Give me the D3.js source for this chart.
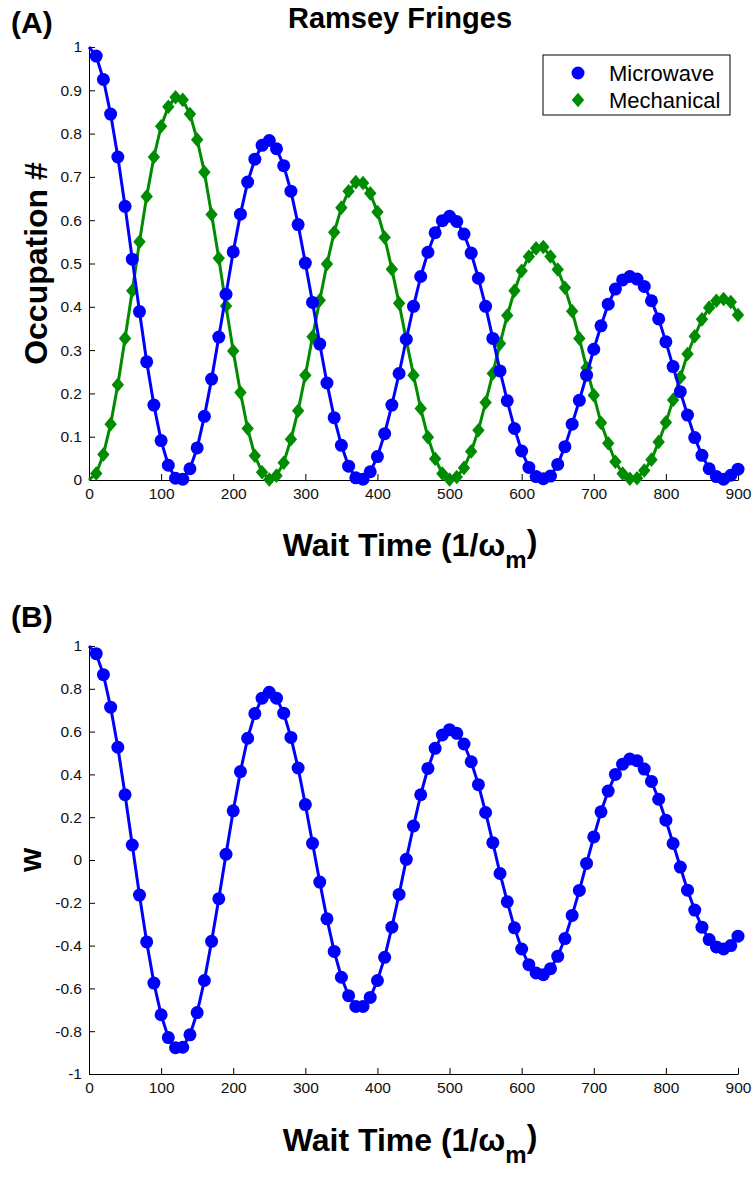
<!DOCTYPE html>
<html>
<head>
<meta charset="utf-8">
<script src="https://cdn.jsdelivr.net/npm/d3@7"></script>
<style>
  html, body { margin: 0; padding: 0; background: #ffffff; }
  svg { display: block; font-family: "Liberation Sans", Arial, Helvetica, sans-serif; }
</style>
</head>
<body>
<svg id="chart" width="752" height="1181"></svg>
<script>
// Wait times (units of 1/omega_m)
const waitTime = [
  0, 10, 20, 30, 40, 50, 60, 70, 80, 90,
  100, 110, 120, 130, 140, 150, 160, 170, 180, 190,
  200, 210, 220, 230, 240, 250, 260, 270, 280, 290,
  300, 310, 320, 330, 340, 350, 360, 370, 380, 390,
  400, 410, 420, 430, 440, 450, 460, 470, 480, 490,
  500, 510, 520, 530, 540, 550, 560, 570, 580, 590,
  600, 610, 620, 630, 640, 650, 660, 670, 680, 690,
  700, 710, 720, 730, 740, 750, 760, 770, 780, 790,
  800, 810, 820, 830, 840, 850, 860, 870, 880, 890,
  900
];

// Microwave occupation
const microwave = [
  1.000, 0.979, 0.925, 0.845, 0.746, 0.632, 0.510, 0.389, 0.273, 0.173,
  0.091, 0.034, 0.004, 0.002, 0.026, 0.074, 0.147, 0.233, 0.330, 0.429,
  0.527, 0.614, 0.688, 0.741, 0.773, 0.784, 0.765, 0.726, 0.667, 0.590,
  0.501, 0.410, 0.314, 0.224, 0.144, 0.080, 0.032, 0.005, 0.002, 0.019,
  0.054, 0.107, 0.173, 0.246, 0.325, 0.401, 0.470, 0.526, 0.571, 0.599,
  0.609, 0.597, 0.568, 0.524, 0.466, 0.401, 0.327, 0.252, 0.183, 0.119,
  0.067, 0.029, 0.008, 0.003, 0.009, 0.036, 0.077, 0.129, 0.184, 0.242,
  0.302, 0.356, 0.406, 0.441, 0.462, 0.470, 0.464, 0.447, 0.414, 0.372,
  0.319, 0.262, 0.204, 0.150, 0.098, 0.057, 0.026, 0.008, 0.002, 0.011,
  0.025
];

// Mechanical occupation
const mechanical = [
  0.000, 0.015, 0.059, 0.129, 0.220, 0.327, 0.437, 0.550, 0.655, 0.746,
  0.817, 0.862, 0.884, 0.878, 0.845, 0.786, 0.711, 0.613, 0.512, 0.402,
  0.298, 0.202, 0.119, 0.056, 0.018, 0.001, 0.010, 0.040, 0.094, 0.160,
  0.242, 0.331, 0.415, 0.499, 0.572, 0.629, 0.667, 0.688, 0.686, 0.662,
  0.619, 0.560, 0.487, 0.408, 0.323, 0.242, 0.165, 0.099, 0.049, 0.015,
  0.001, 0.007, 0.028, 0.066, 0.115, 0.179, 0.246, 0.315, 0.380, 0.437,
  0.483, 0.516, 0.535, 0.538, 0.516, 0.486, 0.444, 0.390, 0.327, 0.259,
  0.196, 0.132, 0.085, 0.042, 0.015, 0.003, 0.004, 0.022, 0.047, 0.088,
  0.133, 0.185, 0.237, 0.291, 0.332, 0.371, 0.398, 0.414, 0.418, 0.411,
  0.381
];

// Population inversion w
const inversion = [
  1.000, 0.964, 0.866, 0.714, 0.527, 0.305, 0.070, -0.164, -0.383, -0.575,
  -0.723, -0.830, -0.877, -0.875, -0.817, -0.713, -0.563, -0.380, -0.181, 0.027,
  0.230, 0.413, 0.569, 0.684, 0.756, 0.784, 0.756, 0.686, 0.573, 0.430,
  0.259, 0.078, -0.103, -0.275, -0.427, -0.548, -0.634, -0.684, -0.684, -0.642,
  -0.563, -0.455, -0.314, -0.161, 0.003, 0.159, 0.305, 0.428, 0.522, 0.584,
  0.609, 0.592, 0.542, 0.459, 0.352, 0.222, 0.081, -0.063, -0.195, -0.317,
  -0.416, -0.489, -0.528, -0.536, -0.508, -0.450, -0.367, -0.259, -0.142, -0.016,
  0.108, 0.225, 0.322, 0.400, 0.448, 0.472, 0.464, 0.425, 0.367, 0.284,
  0.186, 0.077, -0.033, -0.141, -0.234, -0.314, -0.372, -0.406, -0.416, -0.400,
  -0.356
];

const timeTicks = [0, 100, 200, 300, 400, 500, 600, 700, 800, 900];
const occupationTicks = [0, 0.1, 0.2, 0.3, 0.4, 0.5, 0.6, 0.7, 0.8, 0.9, 1];
const inversionTicks = [-1, -0.8, -0.6, -0.4, -0.2, 0, 0.2, 0.4, 0.6, 0.8, 1];
const seriesNames = ["Microwave", "Mechanical"];

const BLUE = "#0000ff";
const GREEN = "#008c00";
const svg = d3.select("#chart");

const left = 89, right = 738;
const panelA = { top: 47, bottom: 480 };
const panelB = { top: 646, bottom: 1074 };

const x = d3.scaleLinear().domain([0, 900]).range([left, right]);
const yA = d3.scaleLinear().domain([0, 1]).range([panelA.bottom, panelA.top]);
const yB = d3.scaleLinear().domain([-1, 1]).range([panelB.bottom, panelB.top]);

const fmt = d => String(+d.toFixed(1));

function drawAxes(y, ticks, bottom) {
  const gx = svg.append("g")
    .attr("transform", `translate(0,${bottom})`)
    .call(d3.axisBottom(x).tickValues(timeTicks).tickFormat(d3.format("d"))
      .tickSizeInner(-6).tickSizeOuter(0).tickPadding(8));
  const gy = svg.append("g")
    .attr("transform", `translate(${left},0)`)
    .call(d3.axisLeft(y).tickValues(ticks).tickFormat(fmt)
      .tickSizeInner(-6).tickSizeOuter(0).tickPadding(7));
  [gx, gy].forEach(g => {
    g.selectAll("path.domain").attr("stroke", "#000").attr("stroke-width", 1);
    g.selectAll(".tick line").attr("stroke", "#000").attr("stroke-width", 1);
    g.selectAll(".tick text").attr("fill", "#111")
      .style("font-size", "15.5px")
      .style("font-family", '"Liberation Sans", Arial, sans-serif');
  });
}

function diamondPath(cx, cy, hw, hh) {
  return `M${cx},${cy - hh}L${cx + hw},${cy}L${cx},${cy + hh}L${cx - hw},${cy}Z`;
}

function drawSeries(y, values, color, marker) {
  const pts = waitTime.map((t, i) => [t, values[i]]);
  const line = d3.line().x(d => x(d[0])).y(d => y(d[1]));
  svg.append("path")
    .attr("d", line(pts))
    .attr("fill", "none")
    .attr("stroke", color)
    .attr("stroke-width", 3)
    .attr("stroke-linejoin", "round");
  const markers = pts.filter(d => d[0] > 0);
  if (marker === "circle") {
    svg.append("g").selectAll("circle").data(markers).join("circle")
      .attr("cx", d => x(d[0])).attr("cy", d => y(d[1]))
      .attr("r", 6.5).attr("fill", color);
  } else {
    svg.append("g").selectAll("path").data(markers).join("path")
      .attr("d", d => diamondPath(x(d[0]), y(d[1]), 6.2, 7.3))
      .attr("fill", color);
  }
}

function xLabel(baseline) {
  const t = svg.append("text")
    .attr("x", 410).attr("y", baseline)
    .attr("text-anchor", "middle")
    .style("font-size", "32px").style("font-weight", "bold").attr("fill", "#000");
  t.append("tspan").text("Wait Time (1/");
  t.append("tspan").text("ω");
  t.append("tspan").attr("dy", "0.5em").style("font-size", "24px").text("m");
  t.append("tspan").attr("dy", "-0.5em").text(")");
}

// Panel A: occupation numbers
drawAxes(yA, occupationTicks, panelA.bottom);
drawSeries(yA, mechanical, GREEN, "diamond");
drawSeries(yA, microwave, BLUE, "circle");

svg.append("text").attr("x", 400).attr("y", 28).attr("text-anchor", "middle")
  .style("font-size", "29px").style("font-weight", "bold").text("Ramsey Fringes");
svg.append("text").attr("x", 11).attr("y", 33)
  .style("font-size", "30px").style("font-weight", "bold").text("(A)");
svg.append("text")
  .attr("transform", `translate(47,${(panelA.top + panelA.bottom) / 2}) rotate(-90)`)
  .attr("text-anchor", "middle")
  .style("font-size", "32px").style("font-weight", "bold").text("Occupation #");
xLabel(556);

// Legend
const legend = svg.append("g");
legend.append("rect").attr("x", 543).attr("y", 55).attr("width", 187).attr("height", 60)
  .attr("fill", "#fff").attr("stroke", "#000").attr("stroke-width", 1);
legend.append("circle").attr("cx", 578).attr("cy", 73).attr("r", 6.5).attr("fill", BLUE);
legend.append("path").attr("d", diamondPath(578, 100, 6.2, 7.3)).attr("fill", GREEN);
legend.append("text").attr("x", 609).attr("y", 81)
  .style("font-size", "22px").text(seriesNames[0]);
legend.append("text").attr("x", 609).attr("y", 108)
  .style("font-size", "22px").text(seriesNames[1]);

// Panel B: inversion
drawAxes(yB, inversionTicks, panelB.bottom);
drawSeries(yB, inversion, BLUE, "circle");
svg.append("text").attr("x", 11).attr("y", 627)
  .style("font-size", "30px").style("font-weight", "bold").text("(B)");
svg.append("text")
  .attr("transform", `translate(41,${(panelB.top + panelB.bottom) / 2}) rotate(-90)`)
  .attr("text-anchor", "middle")
  .style("font-size", "31px").style("font-weight", "bold").text("w");
xLabel(1151);
</script>
</body>
</html>
